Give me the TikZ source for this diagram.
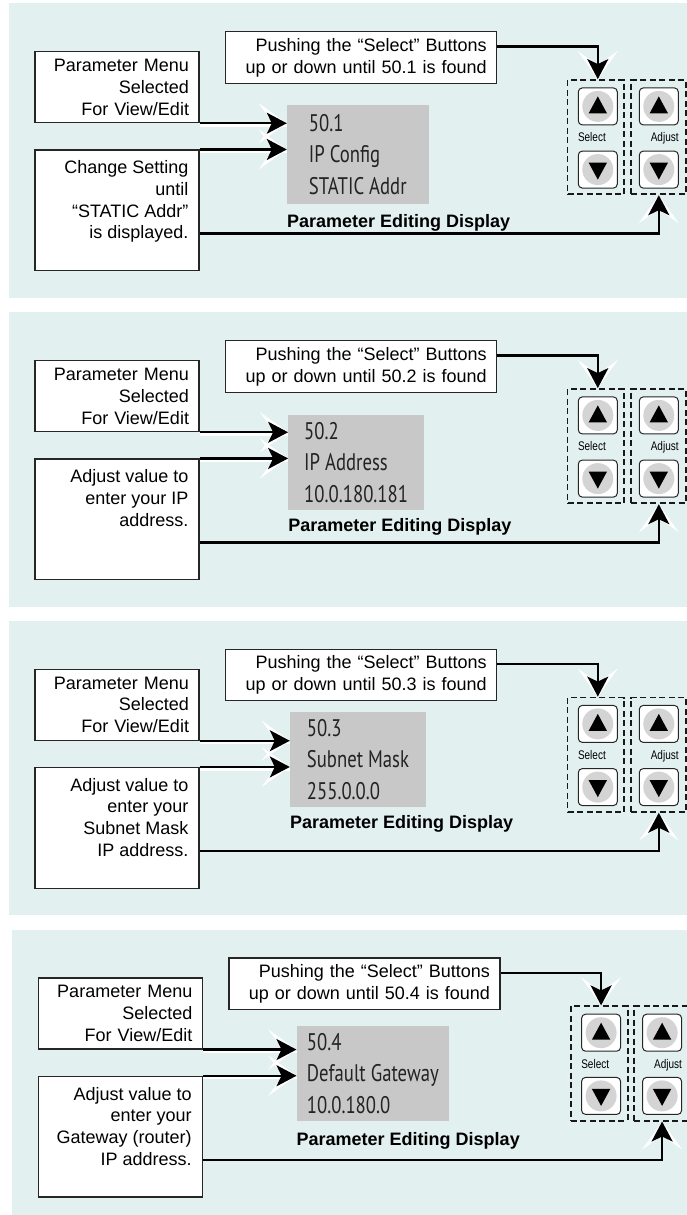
\documentclass[tikz,border=0pt]{standalone}
\usepackage{fontspec}
\setmainfont{Liberation Sans}
\newfontfamily\lcdfont[FakeStretch=0.78]{PT Sans}
\newfontfamily\keyfont[FakeStretch=0.8]{Liberation Sans}
\usepackage{xcolor}
\usepackage{tikz}
\usetikzlibrary{
    positioning,
    arrows.meta,
    calc
}
\definecolor{panelbg}{RGB}{227,240,240}
\definecolor{lcdgray}{RGB}{200,200,200}
\definecolor{keygray}{RGB}{212,212,212}
\definecolor{lcdtext}{RGB}{35,35,35}
\tikzset{
    panel/.style={
        fill=panelbg
    },
    infobox/.style={
        rectangle, draw=black!85, line width=1.1pt, fill=white,
        align=right, inner xsep=10pt, inner ysep=0pt,
        font=\fontsize{18}{21.7}\selectfont
    },
    infotext/.style={
        align=right, inner sep=0pt,
        font=\fontsize{18}{21.7}\selectfont
    },
    lcd/.style={
        rectangle, fill=lcdgray, align=left, inner sep=0pt,
        text=lcdtext, font=\lcdfont\fontsize{24}{31.7}\selectfont
    },
    lcdtitle/.style={
        inner sep=0pt, font=\bfseries\fontsize{18}{21.7}\selectfont
    },
    keygroup/.style={
        rectangle, draw=black!90, line width=1.8pt,
        dash pattern=on 6pt off 3.5pt, minimum height=114.3pt
    },
    key/.style={
        rectangle, draw=black!85, line width=1pt, fill=white,
        rounded corners=4pt, minimum width=39pt, minimum height=37pt,
        inner sep=0pt
    },
    key_up/.style={key, path picture={
        \fill[keygray] (path picture bounding box.center) circle (15.5pt);
        \fill[black, sharp corners] ([yshift=10pt]path picture bounding box.center)
            -- ++(-9.2pt,-17pt) -- ++(18.4pt,0pt) -- cycle;
    }},
    key_down/.style={key, path picture={
        \fill[keygray] (path picture bounding box.center) circle (15.5pt);
        \fill[black, sharp corners] ([yshift=-10pt]path picture bounding box.center)
            -- ++(-9.2pt,17pt) -- ++(18.4pt,0pt) -- cycle;
    }},
    keylabel/.style={
        inner sep=0pt, font=\keyfont\fontsize{12.5}{14}\selectfont
    }
}

\begin{document}
\begin{tikzpicture}[
        x=1pt, y=-1pt,
        arrow/.style={draw=black, line width=2.3pt,
            -{Stealth[length=20pt, width=21pt, inset=5pt]},
            preaction={draw=white, line width=2.3pt, -{Stealth[length=28pt, width=40pt, inset=14pt]}}},
        shadow_line/.style={preaction={draw=white, line width=2.6pt, -, transform canvas={yshift=-2.3pt}}}
    ]
    \useasboundingbox (0,0) rectangle (687,1215);

    % Panel 1: 50.1 IP Config
    \begin{scope}
        \fill[panel] (9,3.5) rectangle (690,297.6);
        \node[infobox, minimum width=271pt, minimum height=51.6pt, text width=251pt] (push_box1) at (361.2,57.5)
            {Pushing the “Select” Buttons\\up or down until 50.1 is found};
        \node[infobox, minimum width=164pt, minimum height=71pt, text width=144pt] (menu_box1) at (117,87.2)
            {Parameter Menu\\Selected\\For View/Edit};
        \node[infobox, minimum width=164pt, minimum height=120.7pt] (set_box1) at (117,210.35) {};
        \node[infotext, below left=11pt and 11pt of set_box1.north east] (set_txt1)
            {Change Setting\\until\\“STATIC Addr”\\is displayed.};
        \node[lcd, minimum width=141.5pt, minimum height=99pt] (lcd1) at (357.75,154.5)
            {50.1\\IP Config\\STATIC Addr};
        \node[lcdtitle, below=10pt of lcd1.south west, anchor=north west] (lcd_title1) {Parameter Editing Display};

        % Select / Adjust keys
        \node[keygroup, minimum width=56.8pt] (sel_grp1) at (595.9,137.15) {};
        \node[keygroup, minimum width=55pt] (adj_grp1) at (658.5,137.15) {};
        \node[key_up, below=8.3pt of sel_grp1.north, xshift=1.9pt] (sel_up1) {};
        \node[key_down, above=6.6pt of sel_grp1.south, xshift=1.9pt] (sel_dn1) {};
        \node[key_up, below=8.3pt of adj_grp1.north, xshift=0.3pt] (adj_up1) {};
        \node[key_down, above=6.6pt of adj_grp1.south, xshift=0.3pt] (adj_dn1) {};
        \node[keylabel, anchor=base west, yshift=-4.8pt] (sel_lbl1) at (sel_grp1.center -| sel_up1.west) {Select};
        \node[keylabel, anchor=base east, yshift=-4.8pt] (adj_lbl1) at (adj_grp1.center -| adj_up1.east) {Adjust};

        % Arrows
        \draw[arrow, shadow_line] (menu_box1.south east) -- (menu_box1.south east -| lcd1.west);
        \draw[arrow, shadow_line] (set_box1.north east) -- (set_box1.north east -| lcd1.west);
        \draw[arrow] ([yshift=11pt]push_box1.east) -| (sel_up1.north |- sel_grp1.north);
        \draw[arrow] ([yshift=-23pt]set_box1.east) -| (adj_up1.south |- adj_grp1.south);
    \end{scope}

    % Panel 2: 50.2 IP Address
    \begin{scope}[yshift=-309pt]
        \fill[panel] (9,3.3) rectangle (690,297.6);
        \node[infobox, minimum width=271pt, minimum height=51.6pt, text width=251pt] (push_box2) at (361.2,57.5)
            {Pushing the “Select” Buttons\\up or down until 50.2 is found};
        \node[infobox, minimum width=164pt, minimum height=71pt, text width=144pt] (menu_box2) at (117,87.2)
            {Parameter Menu\\Selected\\For View/Edit};
        \node[infobox, minimum width=164pt, minimum height=120.7pt] (set_box2) at (117,210.35) {};
        \node[infotext, below left=11pt and 11pt of set_box2.north east] (set_txt2)
            {Adjust value to\\enter your IP\\address.};
        \node[lcd, minimum width=135.7pt, minimum height=95pt] (lcd2) at (356.15,153.5)
            {50.2\\IP Address\\10.0.180.181};
        \node[lcdtitle, below=8.5pt of lcd2.south west, anchor=north west] (lcd_title2) {Parameter Editing Display};

        % Select / Adjust keys
        \node[keygroup, minimum width=56.8pt] (sel_grp2) at (595.9,137.15) {};
        \node[keygroup, minimum width=55pt] (adj_grp2) at (658.5,137.15) {};
        \node[key_up, below=8.3pt of sel_grp2.north, xshift=1.9pt] (sel_up2) {};
        \node[key_down, above=6.6pt of sel_grp2.south, xshift=1.9pt] (sel_dn2) {};
        \node[key_up, below=8.3pt of adj_grp2.north, xshift=0.3pt] (adj_up2) {};
        \node[key_down, above=6.6pt of adj_grp2.south, xshift=0.3pt] (adj_dn2) {};
        \node[keylabel, anchor=base west, yshift=-4.8pt] (sel_lbl2) at (sel_grp2.center -| sel_up2.west) {Select};
        \node[keylabel, anchor=base east, yshift=-4.8pt] (adj_lbl2) at (adj_grp2.center -| adj_up2.east) {Adjust};

        % Arrows
        \draw[arrow, shadow_line] (menu_box2.south east) -- (menu_box2.south east -| lcd2.west);
        \draw[arrow, shadow_line] (set_box2.north east) -- (set_box2.north east -| lcd2.west);
        \draw[arrow] ([yshift=11pt]push_box2.east) -| (sel_up2.north |- sel_grp2.north);
        \draw[arrow] ([yshift=-23pt]set_box2.east) -| (adj_up2.south |- adj_grp2.south);
    \end{scope}

    % Panel 3: 50.3 Subnet Mask
    \begin{scope}[yshift=-617.5pt]
        \fill[panel] (9,3.2) rectangle (690,297.8);
        \node[infobox, minimum width=271pt, minimum height=51.6pt, text width=251pt] (push_box3) at (361.2,57.5)
            {Pushing the “Select” Buttons\\up or down until 50.3 is found};
        \node[infobox, minimum width=164pt, minimum height=71pt, text width=144pt] (menu_box3) at (117,87.2)
            {Parameter Menu\\Selected\\For View/Edit};
        \node[infobox, minimum width=164pt, minimum height=120.7pt] (set_box3) at (117,210.35) {};
        \node[infotext, below left=11pt and 11pt of set_box3.north east] (set_txt3)
            {Adjust value to\\enter your\\Subnet Mask\\IP address.};
        \node[lcd, minimum width=136pt, minimum height=94.4pt] (lcd3) at (358,142)
            {50.3\\Subnet Mask\\255.0.0.0};
        \node[lcdtitle, below=8.6pt of lcd3.south west, anchor=north west] (lcd_title3) {Parameter Editing Display};

        % Select / Adjust keys
        \node[keygroup, minimum width=56.8pt] (sel_grp3) at (595.9,137.15) {};
        \node[keygroup, minimum width=55pt] (adj_grp3) at (658.5,137.15) {};
        \node[key_up, below=8.3pt of sel_grp3.north, xshift=1.9pt] (sel_up3) {};
        \node[key_down, above=6.6pt of sel_grp3.south, xshift=1.9pt] (sel_dn3) {};
        \node[key_up, below=8.3pt of adj_grp3.north, xshift=0.3pt] (adj_up3) {};
        \node[key_down, above=6.6pt of adj_grp3.south, xshift=0.3pt] (adj_dn3) {};
        \node[keylabel, anchor=base west, yshift=-4.8pt] (sel_lbl3) at (sel_grp3.center -| sel_up3.west) {Select};
        \node[keylabel, anchor=base east, yshift=-4.8pt] (adj_lbl3) at (adj_grp3.center -| adj_up3.east) {Adjust};

        % Arrows
        \draw[arrow, shadow_line] (menu_box3.south east) -- (menu_box3.south east -| lcd3.west);
        \draw[arrow, shadow_line] (set_box3.north east) -- (set_box3.north east -| lcd3.west);
        \draw[arrow] ([yshift=11pt]push_box3.east) -| (sel_up3.north |- sel_grp3.north);
        \draw[arrow] ([yshift=-23pt]set_box3.east) -| (adj_up3.south |- adj_grp3.south);
    \end{scope}

    % Panel 4: 50.4 Default Gateway
    \begin{scope}[xshift=3.3pt, yshift=-926.3pt]
        \fill[panel] (9,3.7) rectangle (690,297.6);
        \node[infobox, minimum width=271pt, minimum height=51.6pt, text width=251pt] (push_box4) at (361.2,57.5)
            {Pushing the “Select” Buttons\\up or down until 50.4 is found};
        \node[infobox, minimum width=164pt, minimum height=71pt, text width=144pt] (menu_box4) at (117,87.2)
            {Parameter Menu\\Selected\\For View/Edit};
        \node[infobox, minimum width=164pt, minimum height=120.7pt] (set_box4) at (117,210.35) {};
        \node[infotext, below left=11pt and 11pt of set_box4.north east] (set_txt4)
            {Adjust value to\\enter your\\Gateway (router)\\IP address.};
        \node[lcd, minimum width=152.3pt, minimum height=94.7pt] (lcd4) at (369.55,147.05)
            {50.4\\Default Gateway\\10.0.180.0};
        \node[lcdtitle, below=11pt of lcd4.south west, anchor=north west] (lcd_title4) {Parameter Editing Display};

        % Select / Adjust keys
        \node[keygroup, minimum width=56.8pt] (sel_grp4) at (595.9,137.15) {};
        \node[keygroup, minimum width=55pt] (adj_grp4) at (658.5,137.15) {};
        \node[key_up, below=8.3pt of sel_grp4.north, xshift=1.9pt] (sel_up4) {};
        \node[key_down, above=6.6pt of sel_grp4.south, xshift=1.9pt] (sel_dn4) {};
        \node[key_up, below=8.3pt of adj_grp4.north, xshift=0.3pt] (adj_up4) {};
        \node[key_down, above=6.6pt of adj_grp4.south, xshift=0.3pt] (adj_dn4) {};
        \node[keylabel, anchor=base west, yshift=-4.8pt] (sel_lbl4) at (sel_grp4.center -| sel_up4.west) {Select};
        \node[keylabel, anchor=base east, yshift=-4.8pt] (adj_lbl4) at (adj_grp4.center -| adj_up4.east) {Adjust};

        % Arrows
        \draw[arrow, shadow_line] (menu_box4.south east) -- (menu_box4.south east -| lcd4.west);
        \draw[arrow, shadow_line] (set_box4.north east) -- (set_box4.north east -| lcd4.west);
        \draw[arrow] ([yshift=11pt]push_box4.east) -| (sel_up4.north |- sel_grp4.north);
        \draw[arrow] ([yshift=-23pt]set_box4.east) -| (adj_up4.south |- adj_grp4.south);
    \end{scope}

\end{tikzpicture}
\end{document}
